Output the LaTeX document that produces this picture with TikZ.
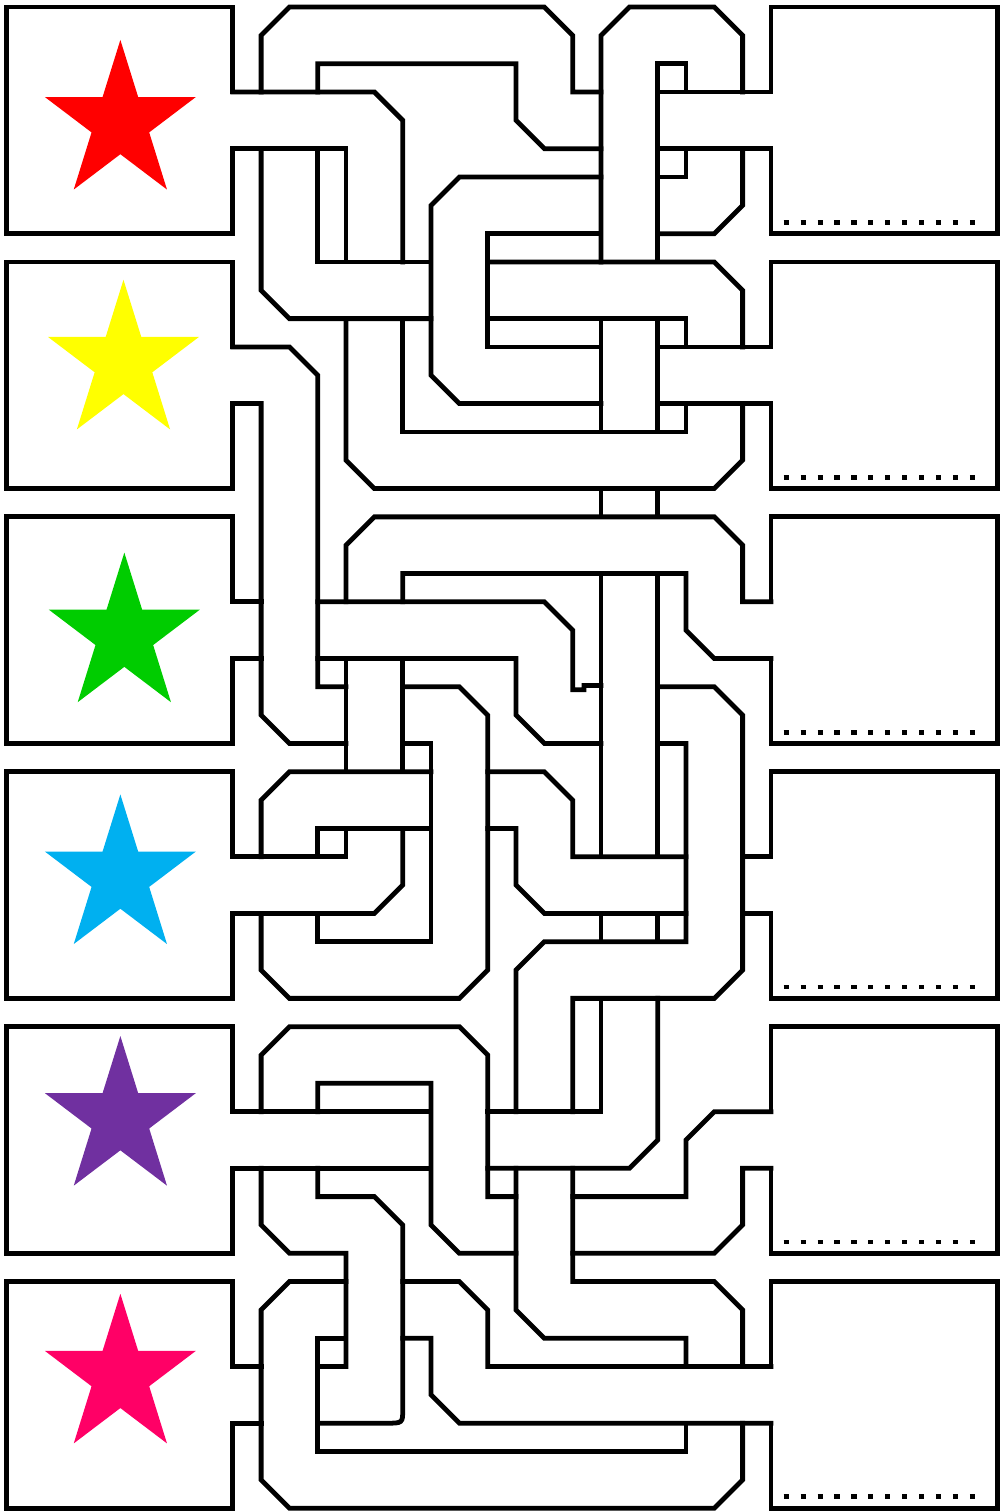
\documentclass[tikz,border=0pt]{standalone}
\definecolor{redstar}{RGB}{255,0,0}
\definecolor{yellowstar}{RGB}{255,255,0}
\definecolor{greenstar}{RGB}{0,204,0}
\definecolor{bluestar}{RGB}{0,176,240}
\definecolor{purplestar}{RGB}{112,48,160}
\definecolor{pinkstar}{RGB}{255,0,102}
\begin{document}
\begin{tikzpicture}[x=0.5cm,y=-0.5cm,
  wall/.style={line width=2.4pt,line cap=rect},
  dotrow/.style={line width=2.4pt,dash pattern=on 2.6pt off 5.9pt}]

  \useasboundingbox (-8.22,-0.25) rectangle (27.16,53.1);

  % start boxes (left) and end boxes (right)
  \foreach \k in {0,9,...,45}{
    \draw[wall] (0,\k+3) -- (0,\k) -- (-8,\k) -- (-8,\k+8) -- (0,\k+8) -- (0,\k+5);
    \draw[wall] (19,\k+3) -- (19,\k) -- (27,\k) -- (27,\k+8) -- (19,\k+8) -- (19,\k+5);
    \draw[dotrow] (19.45,\k+7.6) -- (26.45,\k+7.6);
  }

  % stars
  \foreach \cx/\cy/\col in {-3.97/4.08/redstar,-3.86/12.55/yellowstar,-3.83/22.18/greenstar,
                            -3.97/30.72/bluestar,-3.97/39.25/purplestar,-3.97/48.35/pinkstar}{
    \fill[\col] (\cx,\cy) +(270:2.8 and 2.92) -- +(306:1.07 and 1.115) -- +(342:2.8 and 2.92)
      -- +(18:1.07 and 1.115) -- +(54:2.8 and 2.92) -- +(90:1.07 and 1.115)
      -- +(126:2.8 and 2.92) -- +(162:1.07 and 1.115) -- +(198:2.8 and 2.92)
      -- +(234:1.07 and 1.115) -- cycle;
  }

  % row 1
  \draw[wall] (0,3) -- (5,3) -- (6,4) -- (6,9);
  \draw[wall] (0,5) -- (4,5) -- (4,9);
  \draw[wall] (1,3) -- (1,1) -- (2,0) -- (11,0) -- (12,1) -- (12,3) -- (13,3);
  \draw[wall] (3,3) -- (3,2) -- (10,2) -- (10,4) -- (11,5) -- (13,5);
  \draw[wall] (1,5) -- (1,10) -- (2,11) -- (7,11);
  \draw[wall] (3,5) -- (3,9) -- (7,9);
  \draw[wall] (13,6) -- (8,6) -- (7,7) -- (7,13) -- (8,14) -- (13,14);
  \draw[wall] (13,8) -- (9,8) -- (9,12) -- (13,12);
  \draw[wall] (9,9) -- (17,9) -- (18,10) -- (18,12);
  \draw[wall] (9,11) -- (16,11) -- (16,12);
  \draw[wall] (15,3) -- (19,3);
  \draw[wall] (15,5) -- (19,5);
  \draw[wall] (18,3) -- (18,1) -- (17,0) -- (14,0) -- (13,1) -- (13,9);
  \draw[wall] (15,9) -- (15,2) -- (16,2) -- (16,3);
  \draw[wall] (16,5) -- (16,6) -- (15,6);
  \draw[wall] (18,5) -- (18,7) -- (17,8) -- (15,8);

  % row 2
  \draw[wall] (13,11) -- (13,15);
  \draw[wall] (15,11) -- (15,15);
  \draw[wall] (15,12) -- (19,12);
  \draw[wall] (15,14) -- (19,14);
  \draw[wall] (4,11) -- (4,16) -- (5,17) -- (17,17) -- (18,16) -- (18,14);
  \draw[wall] (6,11) -- (6,15) -- (16,15) -- (16,14);
  \draw[wall] (0,12) -- (2,12) -- (3,13) -- (3,24) -- (4,24);
  \draw[wall] (0,14) -- (1,14) -- (1,25) -- (2,26) -- (4,26);
  \draw[wall] (13,17) -- (13,18);
  \draw[wall] (15,17) -- (15,18);

  % row 3
  \draw[wall] (0,21) -- (1,21);
  \draw[wall] (0,23) -- (1,23);
  \draw[wall] (4,21) -- (4,19) -- (5,18) -- (17,18) -- (18,19) -- (18,21) -- (19,21);
  \draw[wall] (19,23) -- (17,23) -- (16,22) -- (16,20) -- (6,20) -- (6,21);
  \draw[wall] (3,21) -- (11,21) -- (12,22) -- (12,24.1) -- (12.4,24.1) -- (12.4,23.95) -- (13,23.95);
  \draw[wall] (3,23) -- (10,23) -- (10,25) -- (11,26) -- (13,26);
  \draw[wall] (13,20) -- (13,30);
  \draw[wall] (15,20) -- (15,30);
  \draw[wall] (4,23) -- (4,27);
  \draw[wall] (6,23) -- (6,27);
  \draw[wall] (6,24) -- (8,24) -- (9,25) -- (9,34) -- (8,35) -- (2,35) -- (1,34) -- (1,32);
  \draw[wall] (6,26) -- (7,26) -- (7,33) -- (3,33) -- (3,32);
  \draw[wall] (15,24) -- (17,24) -- (18,25) -- (18,34) -- (17,35) -- (12,35) -- (12,39);
  \draw[wall] (15,26) -- (16,26) -- (16,33) -- (11,33) -- (10,34) -- (10,39);

  % row 4
  \draw[wall] (1,30) -- (1,28) -- (2,27) -- (7,27);
  \draw[wall] (3,30) -- (3,29) -- (7,29);
  \draw[wall] (4,29) -- (4,30) -- (0,30);
  \draw[wall] (6,29) -- (6,31) -- (5,32) -- (0,32);
  \draw[wall] (9,27) -- (11,27) -- (12,28) -- (12,30) -- (16,30);
  \draw[wall] (9,29) -- (10,29) -- (10,31) -- (11,32) -- (16,32);
  \draw[wall] (18,30) -- (19,30);
  \draw[wall] (18,32) -- (19,32);
  \draw[wall] (13,32) -- (13,33);
  \draw[wall] (15,32) -- (15,33);

  % row 5
  \draw[wall] (13,35) -- (13,39) -- (9,39);
  \draw[wall] (15,35) -- (15,40) -- (14,41) -- (9,41);
  \draw[wall] (0,39) -- (7,39);
  \draw[wall] (0,41) -- (7,41);
  \draw[wall] (1,39) -- (1,37) -- (2,36) -- (8,36) -- (9,37) -- (9,42) -- (10,42);
  \draw[wall] (3,39) -- (3,38) -- (7,38) -- (7,43) -- (8,44) -- (10,44);
  \draw[wall] (12,42) -- (16,42) -- (16,40) -- (17,39) -- (19,39);
  \draw[wall] (19,41) -- (18,41) -- (18,43) -- (17,44) -- (12,44);
  \draw[wall] (10,41) -- (10,46) -- (11,47) -- (16,47) -- (16,48);
  \draw[wall] (12,41) -- (12,45) -- (17,45) -- (18,46) -- (18,48);
  \draw[wall] (1,41) -- (1,43) -- (2,44) -- (4,44) -- (4,48) -- (3,48);
  \draw[wall] (3,41) -- (3,42) -- (5,42) -- (6,43) -- (6,49.5) .. controls (6,50) .. (5.4,50) -- (3,50);

  % row 6
  \draw[wall] (0,48) -- (1,48);
  \draw[wall] (0,50) -- (1,50);
  \draw[wall] (4,45) -- (2,45) -- (1,46) -- (1,52) -- (2,53) -- (17,53) -- (18,52) -- (18,50);
  \draw[wall] (4,47) -- (3,47) -- (3,51) -- (16,51) -- (16,50);
  \draw[wall] (6,45) -- (8,45) -- (9,46) -- (9,48) -- (19,48);
  \draw[wall] (6,47) -- (7,47) -- (7,49) -- (8,50) -- (19,50);

\end{tikzpicture}
\end{document}
